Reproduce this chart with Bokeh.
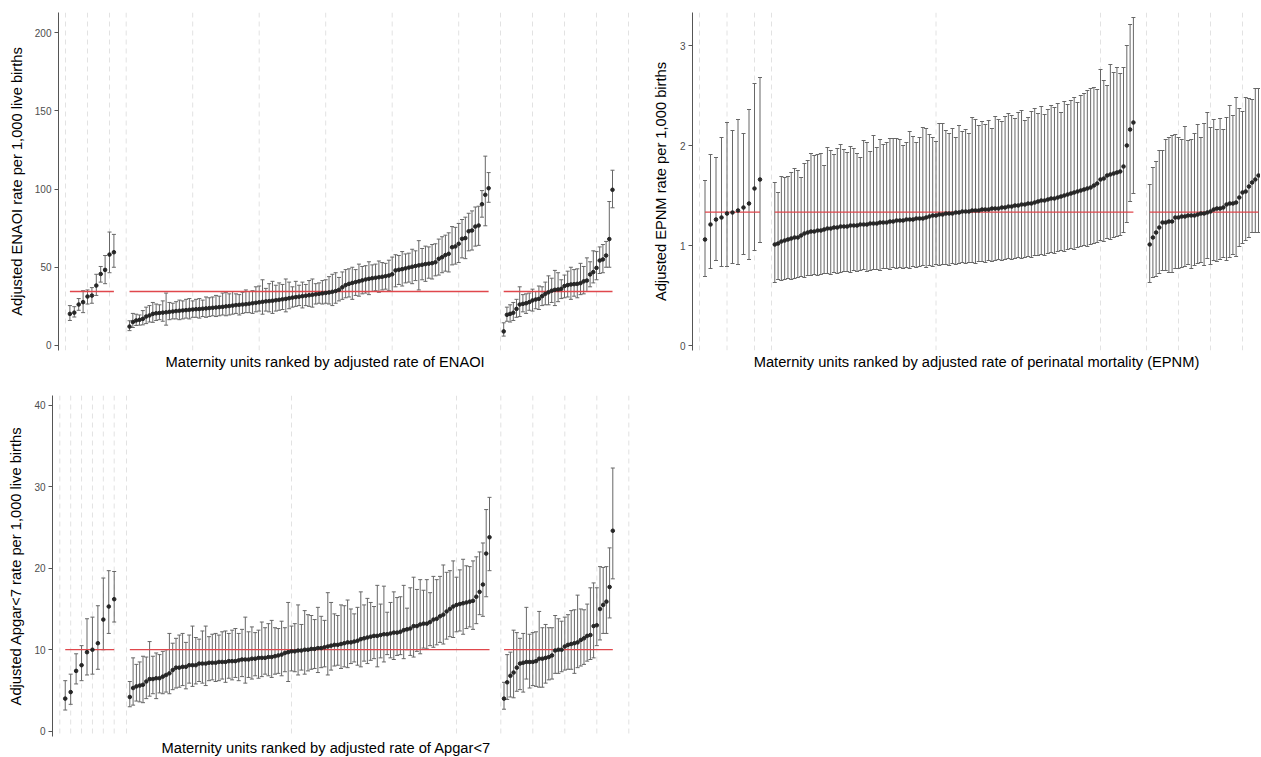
import numpy as np
from bokeh.plotting import figure
from bokeh.models import Range1d, FixedTicker, Span, Title, ColumnDataSource
from bokeh.layouts import column, row
from bokeh.embed import file_html
from bokeh.resources import INLINE

FONT = "Liberation Sans"

# ---------------- ENAOI ----------------
enaoi_mean = 34.5
enaoi_g1 = [20.2, 21.0, 26.2, 27.7, 31.3, 31.9, 38.3, 45.7, 48.3, 58.1, 59.6]
enaoi_g1_lo = [16.0, 18.2, 22.5, 21.0, 26.5, 27.0, 32.0, 40.5, 39.5, 46.5, 50.0]
enaoi_g1_hi = [25.5, 24.8, 30.0, 35.0, 35.5, 37.0, 45.5, 50.5, 57.5, 72.5, 71.0]

enaoi_g2 = [12.1, 15.0, 16.0, 16.4, 17.0, 18.5, 19.2, 20.2, 20.6, 20.8,
            21.0, 21.2, 21.5, 21.7, 22.0, 22.2, 22.4, 22.6, 22.8, 23.0,
            23.2, 23.3, 23.5, 23.7, 23.9, 24.1, 24.3, 24.5, 24.7, 25.0,
            25.2, 25.5, 25.8, 26.0, 26.2, 26.4, 26.7, 27.0, 27.3, 27.6,
            27.9, 28.2, 28.4, 28.6, 28.9, 29.2, 29.5, 29.8, 30.2, 30.6,
            30.9, 31.2, 31.5, 31.8, 32.1, 32.4, 32.7, 33.0, 33.3, 33.6,
            33.9, 34.3, 34.8, 35.6, 37.2, 38.6, 39.4, 40.0, 40.5, 41.0,
            41.6, 42.2, 42.6, 43.0, 43.3, 43.6, 43.9, 44.3, 44.7, 45.5,
            48.0, 48.4, 48.8, 49.3, 49.8, 50.3, 50.8, 51.2, 51.6, 52.0,
            52.3, 52.6, 53.2, 55.4, 56.4, 57.8, 58.6, 62.8, 63.3, 65.0,
            68.2, 68.6, 73.0, 73.5, 76.0, 76.7, 90.3, 96.3, 100.5]
enaoi_g2_hi = [15.8, 20.5, 20.0, 19.5, 22.3, 24.5, 25.5, 27.5, 26.5, 26.0,
               28.5, 33.5, 27.5, 27.0, 28.0, 29.0, 28.5, 29.5, 30.0, 28.5,
               29.5, 30.0, 29.0, 31.0, 30.5, 31.0, 32.0, 31.5, 33.5, 34.0,
               33.0, 34.5, 33.0, 32.5, 34.0, 35.5, 34.5, 35.0, 37.5, 38.0,
               42.0, 36.5, 39.5, 41.0, 38.5, 40.0, 39.0, 42.5, 40.5, 37.5,
               41.0, 38.5, 40.5, 39.0, 41.5, 42.5, 39.5, 40.0, 41.5, 42.0,
               44.0, 45.5, 46.5, 43.5, 47.0, 48.5, 49.0, 50.0, 48.5, 52.0,
               50.5, 51.0, 53.5, 51.5, 52.0, 54.0, 53.0, 52.5, 54.5, 56.5,
               58.0, 57.5, 60.0, 58.5, 59.0, 61.5, 60.5, 67.0, 62.0, 63.5,
               63.0, 64.5, 65.0, 68.0, 69.5, 70.5, 72.0, 76.0, 75.5, 78.0,
               80.5, 82.0, 84.5, 86.0, 88.5, 89.0, 99.0, 121.0, 110.5]
enaoi_g2_lo = [9.5, 11.5, 12.8, 13.0, 13.2, 14.0, 15.0, 14.8, 16.0, 16.5,
               15.5, 13.0, 16.5, 17.0, 17.0, 16.5, 17.0, 17.5, 17.0, 18.0,
               18.0, 17.5, 18.5, 18.0, 18.5, 19.0, 18.5, 19.0, 19.5, 19.0,
               19.5, 20.0, 20.5, 19.5, 20.5, 21.0, 21.0, 20.5, 21.5, 22.0,
               20.0, 22.0, 21.5, 20.5, 22.0, 22.5, 23.0, 21.5, 23.5, 24.5,
               25.0, 25.5, 24.0, 25.5, 25.0, 24.5, 26.5, 27.0, 26.5, 27.0,
               26.5, 25.5, 27.0, 28.5, 29.5, 30.5, 31.0, 29.5, 32.0, 31.5,
               33.0, 33.5, 32.5, 34.5, 35.0, 34.0, 35.5, 36.0, 35.0, 34.5,
               37.5, 39.0, 38.0, 40.0, 40.5, 39.5, 41.5, 35.5, 42.0, 41.0,
               43.0, 42.5, 44.5, 45.0, 46.5, 47.5, 47.0, 51.5, 52.0, 53.0,
               56.0, 55.5, 60.5, 61.0, 63.5, 64.0, 82.0, 76.5, 91.5]

enaoi_g3 = [9.0, 19.6, 20.2, 20.9, 23.4, 26.2, 26.6, 27.0, 27.7, 28.8,
            29.4, 29.8, 31.5, 33.0, 34.0, 35.0, 35.6, 35.8, 36.2, 38.0,
            38.6, 39.0, 39.2, 39.4, 39.8, 41.0, 41.5, 45.4, 46.9, 49.6,
            54.3, 55.0, 57.5, 68.0, 99.5]
enaoi_g3_hi = [14.5, 24.5, 26.0, 27.5, 29.5, 37.5, 32.5, 33.0, 33.5, 36.0,
               34.5, 38.0, 37.5, 40.5, 44.5, 43.0, 48.0, 46.5, 42.0, 45.0,
               47.5, 50.0, 48.5, 49.0, 52.5, 50.5, 56.0, 53.5, 60.5, 60.0,
               63.0, 64.5, 66.5, 92.0, 112.0]
enaoi_g3_lo = [6.0, 15.5, 15.0, 16.0, 18.0, 18.5, 21.5, 20.5, 22.5, 22.0,
               23.5, 23.0, 25.5, 26.0, 26.0, 27.5, 25.5, 28.0, 30.0, 30.5,
               31.0, 29.5, 31.5, 30.5, 32.5, 33.0, 34.5, 37.5, 40.0, 42.0,
               46.0, 46.5, 50.0, 50.0, 88.0]

# ---------------- EPNM ----------------
epnm_mean = 1.333
epnm_g1 = [1.06, 1.21, 1.26, 1.28, 1.32, 1.33, 1.35, 1.38, 1.42, 1.57, 1.66]
epnm_g1_hi = [1.65, 1.91, 1.88, 2.08, 2.23, 2.15, 2.26, 2.12, 2.36, 2.62, 2.68]
epnm_g1_lo = [0.69, 0.77, 0.85, 0.79, 0.79, 0.82, 0.81, 0.91, 0.86, 0.95, 1.03]

epnm_g2 = [1.01, 1.02, 1.04, 1.05, 1.06, 1.07, 1.08, 1.08, 1.10, 1.12,
           1.13, 1.14, 1.14, 1.15, 1.15, 1.16, 1.17, 1.17, 1.18, 1.18,
           1.19, 1.19, 1.19, 1.20, 1.20, 1.20, 1.21, 1.21, 1.21, 1.22,
           1.22, 1.22, 1.23, 1.23, 1.23, 1.24, 1.24, 1.25, 1.25, 1.25,
           1.26, 1.26, 1.26, 1.27, 1.27, 1.27, 1.28, 1.29, 1.30, 1.30,
           1.31, 1.31, 1.32, 1.32, 1.32, 1.33, 1.33, 1.34, 1.34, 1.34,
           1.35, 1.35, 1.35, 1.36, 1.36, 1.36, 1.37, 1.37, 1.37, 1.38,
           1.38, 1.39, 1.39, 1.40, 1.40, 1.41, 1.41, 1.42, 1.42, 1.43,
           1.44, 1.45, 1.45, 1.46, 1.47, 1.47, 1.48, 1.49, 1.50, 1.51,
           1.52, 1.53, 1.54, 1.55, 1.56, 1.57, 1.58, 1.60, 1.62, 1.66,
           1.67, 1.70, 1.71, 1.72, 1.73, 1.74, 1.79, 2.00, 2.16, 2.23]
epnm_g2_hi = [1.63, 1.53, 1.69, 1.68, 1.69, 1.73, 1.77, 1.75, 1.68, 1.82,
              1.85, 1.92, 1.90, 1.91, 1.92, 1.80, 1.98, 1.95, 1.91, 1.97,
              2.01, 1.96, 1.93, 1.99, 1.97, 1.92, 1.88, 2.05, 2.03, 1.94,
              2.10, 1.98, 2.06, 2.01, 2.03, 2.07, 2.07, 2.07, 2.06, 2.00,
              2.03, 2.14, 2.09, 2.03, 2.08, 2.18, 2.17, 2.11, 2.08, 2.04,
              2.22, 2.22, 2.15, 2.12, 2.17, 2.08, 2.20, 2.14, 2.16, 2.12,
              2.28, 2.26, 2.20, 2.24, 2.21, 2.25, 2.17, 2.29, 2.26, 2.24,
              2.29, 2.32, 2.30, 2.27, 2.33, 2.35, 2.25, 2.28, 2.34, 2.37,
              2.32, 2.39, 2.31, 2.36, 2.40, 2.38, 2.42, 2.33, 2.44, 2.41,
              2.45, 2.48, 2.43, 2.50, 2.52, 2.55, 2.57, 2.58, 2.56, 2.76,
              2.65, 2.60, 2.81, 2.73, 2.78, 2.72, 2.78, 3.00, 3.21, 3.28]
epnm_g2_lo = [0.63, 0.66, 0.65, 0.66, 0.67, 0.66, 0.67, 0.68, 0.69, 0.68,
              0.70, 0.70, 0.71, 0.70, 0.71, 0.72, 0.72, 0.71, 0.73, 0.72,
              0.73, 0.74, 0.74, 0.73, 0.75, 0.74, 0.75, 0.76, 0.74, 0.75,
              0.76, 0.76, 0.75, 0.77, 0.77, 0.76, 0.78, 0.77, 0.78, 0.77,
              0.78, 0.77, 0.79, 0.78, 0.79, 0.80, 0.78, 0.80, 0.79, 0.81,
              0.80, 0.81, 0.81, 0.80, 0.82, 0.81, 0.82, 0.83, 0.82, 0.83,
              0.83, 0.82, 0.84, 0.84, 0.83, 0.85, 0.84, 0.85, 0.86, 0.85,
              0.86, 0.87, 0.86, 0.87, 0.88, 0.87, 0.88, 0.89, 0.88, 0.90,
              0.90, 0.91, 0.90, 0.92, 0.93, 0.92, 0.94, 0.95, 0.94, 0.96,
              0.97, 0.96, 0.98, 0.99, 1.00, 0.99, 1.01, 1.02, 1.03, 1.05,
              1.04, 1.07, 1.06, 1.08, 1.09, 1.10, 1.13, 1.23, 1.44, 1.52]

epnm_g3 = [1.01, 1.08, 1.13, 1.18, 1.23, 1.23, 1.24, 1.24, 1.28, 1.28,
           1.29, 1.29, 1.30, 1.30, 1.30, 1.31, 1.32, 1.32, 1.33, 1.34,
           1.36, 1.37, 1.37, 1.38, 1.41, 1.42, 1.42, 1.43, 1.48, 1.53,
           1.54, 1.59, 1.63, 1.66, 1.70]
epnm_g3_hi = [1.61, 1.78, 1.84, 1.95, 1.95, 2.06, 2.08, 2.10, 2.11, 2.08,
              2.06, 2.19, 2.05, 2.06, 2.12, 2.21, 2.08, 2.22, 2.33, 2.18,
              2.26, 2.16, 2.27, 2.16, 2.28, 2.40, 2.30, 2.48, 2.37, 2.34,
              2.48, 2.47, 2.46, 2.57, 2.57]
epnm_g3_lo = [0.63, 0.68, 0.69, 0.72, 0.75, 0.75, 0.73, 0.73, 0.77, 0.77,
              0.78, 0.79, 0.81, 0.77, 0.80, 0.82, 0.83, 0.80, 0.87, 0.81,
              0.85, 0.84, 0.86, 0.88, 0.85, 0.88, 0.91, 0.89, 0.99, 1.02,
              1.05, 1.08, 1.13, 1.13, 1.13]

# ---------------- Apgar<7 ----------------
apgar_mean = 10.0
apgar_g1 = [4.0, 4.8, 7.4, 8.1, 9.7, 10.0, 10.8, 13.7, 15.3, 16.2]
apgar_g1_hi = [6.2, 7.0, 9.5, 10.5, 13.8, 14.0, 15.4, 18.8, 19.7, 19.6]
apgar_g1_lo = [2.6, 3.3, 5.8, 6.2, 6.9, 7.0, 7.6, 10.0, 12.0, 13.4]

apgar_g2 = [4.2, 5.3, 5.5, 5.6, 5.7, 6.1, 6.4, 6.4, 6.5, 6.5,
            6.7, 6.9, 7.1, 7.5, 7.8, 7.8, 7.9, 7.9, 8.1, 8.1,
            8.1, 8.3, 8.3, 8.3, 8.4, 8.4, 8.4, 8.5, 8.5, 8.5,
            8.6, 8.6, 8.6, 8.7, 8.8, 8.8, 8.8, 8.9, 8.9, 9.0,
            9.0, 9.0, 9.1, 9.1, 9.2, 9.3, 9.4, 9.6, 9.7, 9.8,
            9.8, 9.9, 9.9, 10.0, 10.0, 10.1, 10.1, 10.2, 10.2, 10.3,
            10.4, 10.5, 10.6, 10.6, 10.7, 10.8, 10.9, 10.9, 11.0, 11.1,
            11.3, 11.4, 11.5, 11.6, 11.7, 11.7, 11.8, 11.9, 11.9, 12.0,
            12.1, 12.1, 12.2, 12.4, 12.5, 12.6, 12.9, 12.9, 13.1, 13.2,
            13.2, 13.4, 13.7, 13.8, 14.1, 14.3, 14.7, 15.0, 15.3, 15.5,
            15.6, 15.7, 15.8, 15.9, 16.0, 16.5, 17.1, 18.0, 21.8, 23.8]
apgar_g2_hi = [6.1, 9.0, 8.2, 8.5, 9.2, 9.1, 11.0, 9.2, 9.6, 9.4,
               9.8, 10.0, 12.0, 10.8, 11.4, 11.8, 12.0, 10.9, 11.8, 12.9,
               11.5, 11.3, 12.3, 12.9, 11.6, 11.9, 12.0, 11.8, 12.2, 12.3,
               12.0, 12.4, 12.6, 12.0, 12.5, 14.0, 12.2, 12.8, 12.1, 12.4,
               13.4, 12.7, 13.2, 13.6, 12.7, 12.6, 13.5, 12.7, 15.8, 12.9,
               13.2, 15.5, 13.1, 14.8, 14.3, 14.2, 13.7, 15.2, 14.1, 13.6,
               17.0, 15.8, 14.4, 14.2, 15.5, 15.4, 16.1, 15.0, 14.4, 15.2,
               17.1, 15.5, 16.3, 15.8, 15.3, 17.9, 15.6, 17.8, 14.6, 15.8,
               17.1, 16.4, 16.5, 17.9, 15.1, 17.6, 18.9, 17.4, 18.6, 17.3,
               18.6, 17.0, 19.0, 18.6, 19.0, 20.4, 19.5, 19.7, 20.9, 18.9,
               19.8, 21.1, 20.3, 20.2, 20.9, 21.4, 22.0, 23.1, 27.2, 28.7]
apgar_g2_lo = [3.0, 3.2, 3.7, 3.6, 3.5, 4.0, 4.3, 4.6, 4.0, 4.7,
               4.6, 4.8, 4.6, 5.1, 5.3, 5.4, 5.6, 5.2, 5.9, 5.5,
               5.8, 6.1, 5.9, 5.6, 6.2, 6.3, 6.1, 6.2, 6.4, 6.0,
               6.5, 6.3, 6.6, 6.2, 6.7, 5.9, 6.6, 6.4, 6.8, 6.5,
               6.7, 7.0, 6.8, 6.6, 7.0, 7.1, 6.8, 7.3, 6.1, 7.4,
               7.3, 6.9, 7.5, 7.0, 7.4, 7.6, 7.7, 7.2, 7.8, 7.9,
               6.9, 7.5, 8.0, 8.1, 7.7, 7.9, 7.8, 8.3, 8.5, 8.1,
               7.9, 8.6, 8.3, 8.7, 8.9, 7.9, 9.0, 8.5, 9.4, 9.0,
               8.8, 9.3, 9.4, 8.9, 10.0, 9.3, 9.1, 9.8, 9.5, 10.2,
               10.1, 10.5, 10.3, 10.6, 10.9, 10.7, 11.3, 11.6, 11.5, 12.2,
               12.3, 11.9, 12.6, 12.8, 12.5, 13.2, 14.3, 14.1, 16.5, 19.7]

apgar_g3 = [4.0, 6.0, 6.8, 7.2, 7.8, 8.3, 8.4, 8.5, 8.5, 8.5,
            8.6, 8.9, 8.9, 9.0, 9.1, 9.3, 9.9, 10.0, 10.0, 10.4,
            10.6, 10.7, 10.8, 10.9, 11.2, 11.4, 11.7, 11.8, 12.9, 13.0,
            15.0, 15.5, 15.9, 17.7, 24.6]
apgar_g3_hi = [6.0, 9.4, 9.7, 12.4, 12.1, 11.4, 12.0, 15.2, 11.9, 12.1,
               12.2, 14.7, 12.7, 13.1, 12.7, 12.7, 14.2, 13.8, 13.5, 14.0,
               14.3, 14.8, 14.9, 16.7, 15.0, 14.9, 15.6, 17.6, 18.2, 17.6,
               20.2, 20.1, 20.2, 22.5, 32.3]
apgar_g3_lo = [2.7, 3.9, 4.2, 4.1, 4.9, 5.1, 4.8, 6.4, 5.3, 5.6,
               5.5, 5.4, 5.4, 5.9, 6.3, 6.4, 7.1, 7.1, 7.3, 7.5,
               7.6, 7.6, 7.1, 7.8, 8.0, 8.2, 8.6, 8.8, 9.0, 10.5,
               11.2, 12.0, 12.0, 13.9, 18.7]

# x-axis breaks (background dashed lines) per facet, in rank units
enaoi_breaks = [[0, 5, 10], [0, 20, 40, 60, 80, 100], [0, 10, 20, 30, 40]]
epnm_breaks = [[0, 5, 10], [0, 50, 100], [0, 10, 20, 30]]
apgar_breaks = [[0, 2, 4, 6, 8, 10], [0, 50, 100], [0, 10, 20, 30, 40]]


def check(name, *lists):
    lens = [len(l) for l in lists]
    if len(set(lens)) != 1:
        raise ValueError(f"{name}: length mismatch {lens}")


def make_panel(groups, mean, facets, breaks, yticks, yrange, xrange, width, height,
               borders, ylabel, ylabel_standoff, xlabel, xlabel_align, xlabel_offset):
    bl, br, bt, bb = borders
    p = figure(width=width, height=height, output_backend="svg", toolbar_location=None,
               x_range=Range1d(*xrange), y_range=Range1d(*yrange), x_axis_location=None,
               min_border_left=bl, min_border_right=br, min_border_top=bt,
               min_border_bottom=bb)
    p.outline_line_color = None
    p.background_fill_color = "white"
    p.border_fill_color = "white"
    p.ygrid.visible = False
    p.xgrid.visible = False

    whisk = "#676767"
    for (vals, lo, hi), (x0, u), brk in zip(groups, facets, breaks):
        check(ylabel, vals, lo, hi)
        for b in brk:
            p.add_layout(Span(location=x0 + b * u, dimension="height", line_color="#e2e2e2",
                              line_width=1, line_dash="5 4", level="underlay"))
        ranks = np.arange(1, len(vals) + 1)
        xs = x0 + ranks * u
        src = ColumnDataSource(dict(x=xs, v=vals, lo=lo, hi=hi))
        p.segment(x0="x", y0="lo", x1="x", y1="hi", source=src, line_color=whisk, line_width=1)
        p.scatter(x="x", y="hi", source=src, marker="dash", size=4, line_color=whisk, line_width=1)
        p.scatter(x="x", y="lo", source=src, marker="dash", size=4, line_color=whisk, line_width=1)
        p.line(x=[xs[0], xs[-1]], y=[mean, mean], line_color="#e0474c", line_width=1.3)
        p.scatter(x="x", y="v", source=src, size=3.6, fill_color="#262626", line_color="#262626")

    ax = p.yaxis[0]
    ax.ticker = FixedTicker(ticks=yticks)
    ax.axis_label = ylabel
    ax.axis_label_text_font = FONT
    ax.axis_label_text_font_size = "14.7px"
    ax.axis_label_text_font_style = "normal"
    ax.axis_label_text_color = "#000000"
    ax.axis_label_standoff = ylabel_standoff
    ax.major_label_text_font = FONT
    ax.major_label_text_font_size = "10px"
    ax.major_label_text_color = "#4d4d4d"
    ax.major_label_standoff = 3
    ax.axis_line_color = "#555555"
    ax.major_tick_line_color = "#555555"
    ax.major_tick_out = 4
    ax.major_tick_in = 0
    ax.minor_tick_out = 0
    ax.minor_tick_in = 0

    p.add_layout(Title(text=xlabel, align=xlabel_align, offset=xlabel_offset, standoff=2,
                       text_font=FONT, text_font_size="14.7px", text_font_style="normal",
                       text_color="#000000"), "below")
    return p


p1 = make_panel(
    [(enaoi_g1, enaoi_g1_lo, enaoi_g1_hi), (enaoi_g2, enaoi_g2_lo, enaoi_g2_hi),
     (enaoi_g3, enaoi_g3_lo, enaoi_g3_hi)],
    enaoi_mean, [(65.0, 4.4), (125.7, 3.325), (500.0, 3.2)], enaoi_breaks,
    [0, 50, 100, 150, 200], (-3.2, 212.8), (58, 632), 641, 378, (58, 9, 12, 28),
    "Adjusted ENAOI rate per 1,000 live births", 7,
    "Maternity units ranked by adjusted rate of ENAOI", "left", 107)

p2 = make_panel(
    [(epnm_g1, epnm_g1_lo, epnm_g1_hi), (epnm_g2, epnm_g2_lo, epnm_g2_hi),
     (epnm_g3, epnm_g3_lo, epnm_g3_hi)],
    epnm_mean, [(699.0, 5.5), (771.0, 3.29), (1146.0, 3.2)], epnm_breaks,
    [0, 1, 2, 3], (-0.05, 3.33), (692, 1260), 619, 378, (51, 0, 12, 28),
    "Adjusted EPNM rate per 1,000 births", 8,
    "Maternity units ranked by adjusted rate of perinatal mortality (EPNM)", "center", 0)

p3 = make_panel(
    [(apgar_g1, apgar_g1_lo, apgar_g1_hi), (apgar_g2, apgar_g2_lo, apgar_g2_hi),
     (apgar_g3, apgar_g3_lo, apgar_g3_hi)],
    apgar_mean, [(59.3, 5.44), (126.0, 3.3), (500.3, 3.2)], apgar_breaks,
    [0, 10, 20, 30, 40], (-0.65, 41.2), (52, 632), 641, 378, (52, 9, 17, 19),
    "Adjusted Apgar<7 rate per 1,000 live births", 7,
    "Maternity units ranked by adjusted rate of Apgar<7", "left", 109)

layout = column(row(p1, p2), p3)
open("out.html", "w").write(file_html(layout, INLINE))
